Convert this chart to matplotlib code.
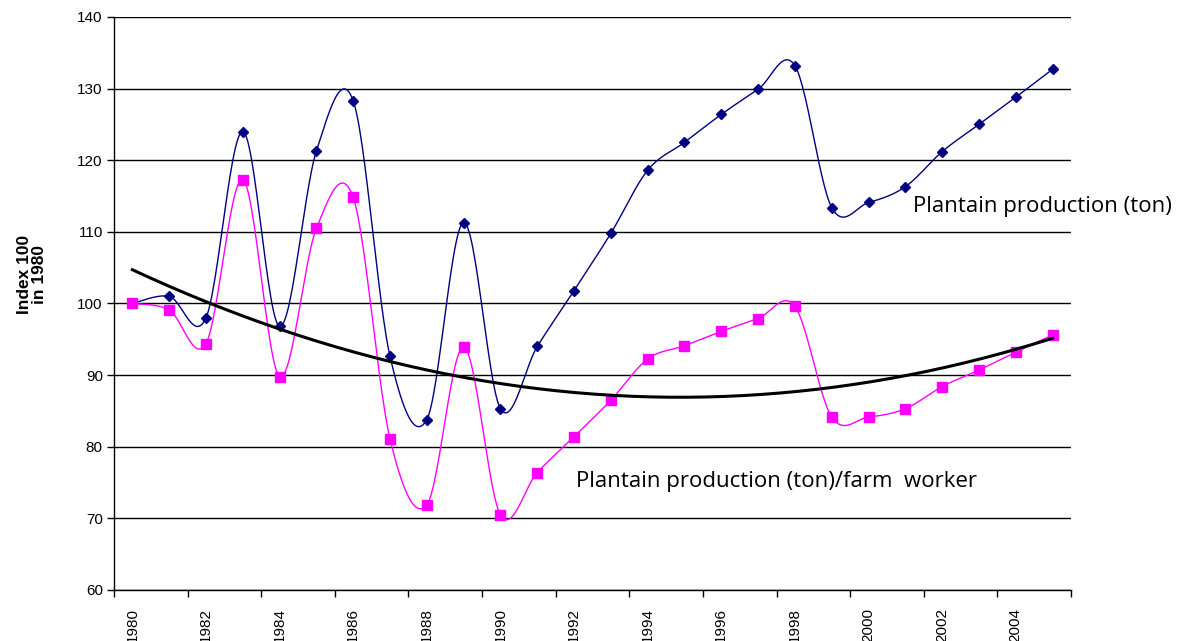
import numpy as np
import matplotlib
matplotlib.use("Agg")
import matplotlib.pyplot as plt
from matplotlib.ticker import FixedLocator, NullFormatter

years = list(range(1980, 2006))
production = [100, 101, 98, 124.0, 96.8, 121.3, 128.3, 92.6, 83.8, 111.3, 85.3, 94.0, 101.8,
              109.8, 118.6, 122.5, 126.4, 129.9, 133.2, 113.4, 114.1, 116.3, 121.2, 125.0, 128.8, 132.7]
per_worker = [100, 99.1, 94.4, 117.3, 89.8, 110.5, 114.8, 81.1, 71.9, 93.9, 70.5, 76.4, 81.4,
              86.5, 92.25, 94.1, 96.1, 97.9, 99.6, 84.15, 84.15, 85.3, 88.4, 90.7, 93.2, 95.6]
label_years = [str(y) for y in years[::2]]


def smooth(xs, ys, n=30):
    # excel-like smoothed line: catmull-rom through the points as bezier segments
    xs = np.asarray(xs, float)
    ys = np.asarray(ys, float)
    px = np.concatenate([[xs[0]], xs, [xs[-1]]])
    py = np.concatenate([[ys[0]], ys, [ys[-1]]])
    t = np.linspace(0, 1, n)[:, None]
    outx, outy = [], []
    for i in range(1, len(px) - 2):
        p0 = np.array([px[i], py[i]])
        p3 = np.array([px[i + 1], py[i + 1]])
        c1 = p0 + (np.array([px[i + 1], py[i + 1]]) - np.array([px[i - 1], py[i - 1]])) / 6
        c2 = p3 - (np.array([px[i + 2], py[i + 2]]) - np.array([px[i], py[i]])) / 6
        b = (1 - t) ** 3 * p0 + 3 * (1 - t) ** 2 * t * c1 + 3 * (1 - t) * t ** 2 * c2 + t ** 3 * p3
        outx.extend(b[:, 0])
        outy.extend(b[:, 1])
    return outx, outy


fig = plt.figure(figsize=(11.86, 6.41), dpi=100)
ax = fig.add_axes([0.0961, 0.0796, 0.8069, 0.8939])

x = np.arange(len(years))

ax.grid(axis="y", color="black", linewidth=1.0)
ax.set_axisbelow(True)

sx, sy = smooth(x, production)
ax.plot(sx, sy, color="#000080", linewidth=1.0, zorder=3)
ax.plot(x, production, linestyle="none", marker="D", markersize=5, color="#000080", zorder=4)

sx, sy = smooth(x, per_worker)
ax.plot(sx, sy, color="#FF00FF", linewidth=1.0, zorder=3)
ax.plot(x, per_worker, linestyle="none", marker="s", markersize=7, color="#FF00FF", zorder=4)

# 2nd order trend line of the per-worker series
coef = np.polyfit(x, per_worker, 2)
tx = np.linspace(0, len(years) - 1, 200)
ax.plot(tx, np.polyval(coef, tx), color="black", linewidth=2.2, zorder=5)

ax.set_xlim(-0.5, len(years) - 0.5)
ax.set_ylim(60, 140)
ax.set_yticks(range(60, 141, 10))
ax.tick_params(axis="y", labelsize=11, length=5, width=1, direction="out", pad=3)

ax.set_xticks(x[::2])
ax.set_xticklabels(label_years, rotation=90, fontsize=11)
ax.xaxis.set_minor_locator(FixedLocator(np.arange(-0.5, len(years), 2)))
ax.xaxis.set_minor_formatter(NullFormatter())
ax.tick_params(axis="x", which="major", length=0, pad=13)
ax.tick_params(axis="x", which="minor", length=5, width=1, direction="out")

for t in ax.get_yticklabels() + ax.get_xticklabels():
    t.set_fontfamily("Liberation Sans")

ax.spines["top"].set_visible(False)
ax.spines["right"].set_visible(False)
ax.spines["left"].set_linewidth(1.0)
ax.spines["bottom"].set_linewidth(1.0)

ax.set_ylabel("Index 100\nin 1980", fontsize=12.5, fontweight="bold",
              fontfamily="Liberation Sans", linespacing=1.0)
ax.yaxis.set_label_coords(-0.07, 0.55)

ax.text(21.2, 113.6, "Plantain production (ton)", fontsize=16, fontfamily="Open Sans",
        va="center", ha="left")
ax.text(12.05, 75.2, "Plantain production (ton)/farm  worker", fontsize=16,
        fontfamily="Open Sans", va="center", ha="left")

fig.savefig("out.png", dpi=100)
